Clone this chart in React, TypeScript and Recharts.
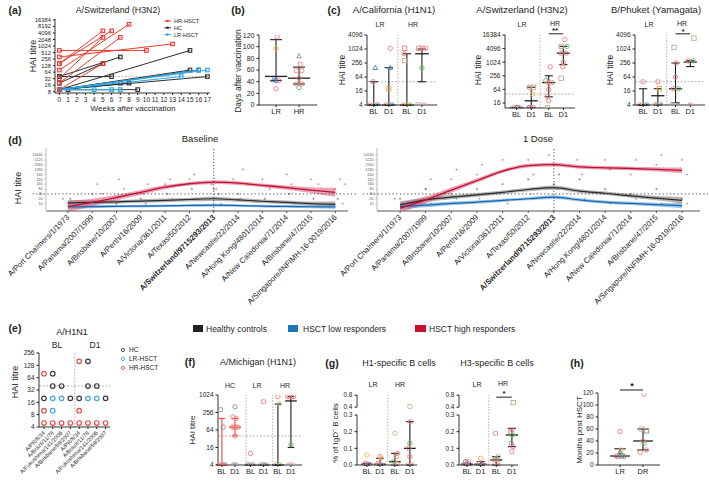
import React from "react";
import {
  Area,
  ComposedChart,
  Line,
  ReferenceLine,
  Scatter,
  ScatterChart,
  XAxis,
  YAxis,
} from "recharts";

const FONT = '"Liberation Sans", Arial, Helvetica, sans-serif';
const INK = "#1e1e1e";
const DASH = "#a0a0a0";
const COL: Record<string, string> = {
  R: "#f27c7c",
  O: "#efb247",
  B: "#3f7fc8",
  G: "#5fbd65",
  T: "#c8ab8e",
  K: "#8d8d8d",
  D: "#3a3a3a",
  L: "#46a6ec",
  H: "#ef4a41",
};

// (a) A/Switzerland kinetics, one subject per row: [week, titre, week, titre]
const aWeeks = [0, 1, 2, 3, 4, 5, 6, 7, 8, 9, 10, 11, 12, 13, 14, 15, 16, 17];
const aTicks = [8, 16, 32, 64, 128, 256, 512, 1024, 2048, 4096, 8192, 16384];
const aHR = [
  [0, 640, 10, 640],
  [0, 320, 13, 1280],
  [0, 160, 5, 5120],
  [0, 160, 6, 5120],
  [0, 80, 8, 10240],
  [0, 32, 5, 2560],
  [0, 20, 7, 2560],
  [0, 10, 5, 160],
];
const aHC = [
  [0, 40, 7, 320],
  [0, 20, 5, 160],
  [0, 10, 15, 640],
  [0, 40, 6, 40],
  [0, 10, 15, 80],
  [0, 10, 16, 80],
  [0, 10, 17, 40],
  [0, 10, 7, 20],
  [0, 10, 8, 20],
  [1, 10, 9, 10],
];
const aLR = [
  [0, 10, 4, 10],
  [0, 10, 6, 10],
  [0, 10, 7, 10],
  [0, 10, 14, 40],
  [0, 10, 16, 80],
  [0, 10, 17, 80],
];

// (b) days after vaccination: [x, value, colour, shape]
const bPts = [
  [1.05, 117, "R"], [1.0, 97, "O"], [0.88, 43, "B", "t"], [1.0, 42, "B"], [1.12, 42, "R"], [1.0, 28, "R"],
  [2.0, 84, "K", "t"], [2.05, 70, "R"], [1.88, 59, "R"], [2.12, 59, "R"], [2.0, 46, "R"],
  [1.88, 36, "R"], [2.12, 36, "R"], [2.0, 30, "G"],
];
const bSum = [[1, 49, 42, 112], [2, 46, 36, 65]];

// (c) HAI titres LR / HR
const cCols = [0, 1, 2.2, 3.2];
const cLabels = ["BL", "D1", "BL", "D1"];
const c1Pts = [
  [0.1, 160, "B", "t"], [-0.05, 40, "R"], [-0.25, 4, "R"], [0, 4, "O"], [0.25, 4, "B"],
  [1.1, 1100, "R"], [1.1, 160, "B", "t"], [1.0, 20, "O", "s"], [0.8, 4, "R"], [1.0, 4, "O"], [1.2, 4, "B"],
  [2.05, 1100, "R", "s"], [2.0, 640, "R"], [2.05, 320, "T", "s"], [2.0, 4, "R"], [2.4, 4, "G"], [2.2, 4, "O"],
  [3.0, 1100, "R", "s"], [3.25, 1100, "R"], [3.45, 1100, "R"], [3.2, 160, "G"], [2.95, 4, "T", "s"], [3.35, 4, "R"],
];
const c1Sum = [[0, 4, 4, 40], [1, 4, 4, 160], [2.2, 4, 4, 640], [3.2, 640, 40, 1024]];
const c2Pts = [
  [-0.2, 10, "R"], [-0.07, 10, "O"], [0.07, 10, "B"], [0.2, 10, "R"],
  [0.85, 80, "R"], [1.15, 80, "T", "s"], [1.1, 40, "O"], [0.85, 10, "B"], [1.0, 10, "R"], [1.15, 10, "R"],
  [2.3, 640, "R"], [2.0, 160, "G"], [2.35, 128, "T", "s"], [2.15, 128, "R"], [2.2, 64, "R"], [2.1, 32, "R"],
  [2.2, 20, "R"], [2.1, 10, "T", "s"],
  [3.3, 10240, "R"], [3.05, 5120, "T", "s"], [3.45, 5120, "G"], [3.05, 2560, "R"], [3.4, 2560, "R"],
  [3.2, 1000, "R"], [3.15, 640, "R"], [3.05, 200, "T", "s"],
];
const c2Sum = [[0, 10, 10, 10], [1, 20, 10, 80], [2.2, 128, 30, 256], [3.2, 2560, 800, 5120]];
const c3Pts = [
  [0, 40, "R"], [-0.25, 4, "R"], [0, 4, "O"], [0.25, 4, "B"],
  [1.0, 40, "R"], [1.1, 20, "O", "s"], [0.8, 4, "R"], [1.0, 4, "T", "s"], [1.25, 4, "B", "t"],
  [2.1, 1200, "T", "s"], [2.25, 256, "R"], [2.2, 64, "R"], [2.4, 20, "G"], [2.05, 20, "R"],
  [2.0, 4, "T", "s"], [2.4, 4, "K", "t"],
  [3.45, 3000, "T", "s"], [3.05, 320, "R"], [3.4, 320, "G"], [3.2, 4, "R"],
];
const c3Sum = [[0, 4, 4, 20], [1, 10, 4, 20], [2.2, 20, 5, 256], [3.2, 280, 180, 320]];

// (d) antibody landscapes
const dStrains = [
  "A/Port Chalmers/1/1973",
  "A/Panama/2007/1999",
  "A/Brisbane/10/2007",
  "A/Perth/16/2009",
  "A/Victoria/361/2011",
  "A/Texas/50/2012",
  "A/Switzerland/9715293/2013",
  "A/Newcastle/22/2014",
  "A/Hong Kong/4801/2014",
  "A/New Caledonia/71/2014",
  "A/Brisbane/47/2015",
  "A/Singapore/INFIMH-16-0019/2016",
];
const dIdx = [0, 1, 2, 3, 4, 5, 6, 7, 8, 9, 10, 11];
const dTicks = [10, 20, 40, 80, 160, 320, 640, 1280, 2560, 5120, 10240];
const blRed = [6.6, 12, 24, 50, 104, 170, 214, 187, 136, 99, 69, 50];
const blBlack = [11, 12, 13, 14.5, 16, 18, 20, 17, 14, 12, 10, 9];
const blBlue = [6.2, 6.5, 6.8, 7, 7.3, 7.7, 8, 7.6, 7, 6.7, 6.4, 6.2];
const blRedCi = [2.2, 1.7, 1.5, 1.4, 1.35, 1.3, 1.3, 1.3, 1.3, 1.35, 1.5, 1.9];
const blBlackCi = [1.5, 1.35, 1.3, 1.3, 1.3, 1.3, 1.35, 1.3, 1.3, 1.3, 1.35, 1.5];
const blBlueCi = [1.35, 1.25, 1.2, 1.2, 1.2, 1.2, 1.25, 1.2, 1.2, 1.2, 1.25, 1.35];
const d1Red = [5.2, 17, 69, 270, 1040, 2260, 2580, 1890, 1640, 1500, 1310, 1145];
const d1Black = [8.2, 17, 25, 35, 50, 75, 98, 60, 44, 30, 22, 16];
const d1Blue = [6.6, 8, 10.3, 12.3, 16, 20, 25, 17, 12.3, 10.3, 8.6, 7.5];
const d1RedCi = [2.0, 1.6, 1.45, 1.35, 1.3, 1.3, 1.3, 1.3, 1.3, 1.3, 1.35, 1.5];
const d1BlackCi = [1.7, 1.4, 1.35, 1.3, 1.3, 1.3, 1.35, 1.3, 1.3, 1.3, 1.35, 1.6];
const d1BlueCi = [1.5, 1.35, 1.3, 1.25, 1.25, 1.25, 1.3, 1.25, 1.25, 1.25, 1.3, 1.45];
const blRedDots = [
  [-0.2, 20], [0.3, 8], [1.2, 160], [1.4, 40], [2.1, 320], [2.3, 80], [3.1, 40], [3.3, 160],
  [4.0, 160], [4.2, 320], [5.0, 320], [5.2, 640], [5.9, 160], [6.1, 80], [6.8, 320], [7.2, 1280],
  [7.4, 160], [8.0, 320], [8.3, 80], [9.0, 640], [9.2, 160], [10.0, 320], [10.3, 160], [11.0, 80],
  [11.2, 320], [11.4, 160],
];
const blBlackDots = [
  [0.1, 20], [1.0, 40], [2.0, 10], [3.0, 20], [4.1, 40], [5.1, 80], [6.0, 80], [6.2, 40],
  [7.0, 40], [8.1, 20], [9.1, 40], [10.1, 20], [11.1, 20],
];
const blBlueDots = [
  [0.0, 10], [0.3, 10], [1.1, 10], [3.2, 10], [4.3, 20], [6.3, 10], [7.1, 20], [9.3, 10], [11.3, 10],
];
const d1RedDots = [
  [0.1, 10], [-0.2, 20], [1.0, 80], [1.2, 320], [2.0, 320], [2.2, 1280], [3.0, 640], [3.2, 2560],
  [4.0, 5120], [4.2, 1280], [5.0, 5120], [5.2, 640], [5.8, 10240], [6.1, 2560], [6.9, 5120],
  [7.1, 640], [8.0, 5120], [8.2, 1280], [9.0, 640], [9.2, 5120], [10.0, 2560], [10.2, 10240],
  [11.0, 5120], [11.2, 640],
];
const d1BlackDots = [
  [0.0, 20], [1.0, 80], [2.0, 40], [3.0, 80], [4.0, 160], [5.0, 320], [6.0, 160], [6.2, 640],
  [7.0, 320], [8.0, 80], [9.0, 40], [10.0, 80], [11.0, 20],
];
const d1BlueDots = [
  [0.2, 10], [1.2, 10], [2.2, 20], [3.1, 20], [4.2, 10], [5.1, 40], [6.1, 80], [7.2, 20],
  [8.2, 10], [9.2, 20], [10.2, 10], [11.2, 10],
];

// (e) A/H1N1 strains
const eCols = [0, 1, 2, 3, 4, 5, 6, 7];
const eStrains = [
  "A/PR/8/34", "A/Brazil/11/78", "A/Fukushima/141/2006", "A/Brisbane/59/2007",
  "A/PR/8/34", "A/Brazil/11/78", "A/Fukushima/141/2006", "A/Brisbane/59/2007",
];
const eTicks = [4, 8, 16, 32, 64, 128, 256];
const ePts = [
  [0, 80, "H"], [0, 20, "D"], [0, 10, "H"], [0, 5, "H"],
  [1, 80, "D"], [1, 40, "D"], [1, 20, "L"], [1, 10, "L"], [1, 5, "H"],
  [2, 40, "D"], [2, 20, "L"], [2, 5, "H"],
  [3, 20, "D"], [3, 5, "H"],
  [4, 160, "H"], [4, 20, "D"], [4, 10, "H"], [4, 5, "H"],
  [5, 160, "D"], [5, 40, "D"], [5, 20, "L"], [5, 5, "H"],
  [6, 40, "D"], [6, 20, "L"], [6, 5, "H"],
  [7, 20, "D"], [7, 5, "H"],
];

// (f) A/Michigan
const fCols = [0, 1, 2.2, 3.2, 4.3, 5.3];
const fLabels = ["BL", "D1", "BL", "D1", "BL", "D1"];
const fPts = [
  [-0.1, 320, "K"], [0.1, 80, "K"], [-0.15, 4, "R"], [0, 4, "R"], [0.15, 4, "R"], [0.25, 4, "K"],
  [1.0, 400, "K"], [0.85, 180, "R"], [1.1, 160, "R"], [0.8, 80, "R"], [0.95, 80, "R"], [1.1, 80, "R"],
  [1.25, 80, "R"], [1.0, 40, "R"], [0.9, 4, "K"], [1.1, 4, "K"],
  [2.2, 10, "R"], [2.0, 4, "B"], [2.2, 4, "R"], [2.4, 4, "K"],
  [3.2, 600, "R"], [3.0, 4, "R"], [3.2, 4, "B"], [3.4, 4, "K"],
  [4.3, 900, "R"], [4.4, 500, "T"], [4.15, 4, "R"], [4.45, 4, "G"],
  [5.05, 900, "R"], [5.2, 900, "R"], [5.35, 900, "R"], [5.5, 900, "R"], [5.3, 20, "G"],
  [5.15, 4, "R"], [5.45, 4, "T"],
];
const fSumHC = [[0, 4, 4, 160], [1, 80, 40, 160]];
const fSum = [[2.2, 4, 4, 4], [3.2, 4, 4, 4], [4.3, 4, 4, 500], [5.3, 640, 16, 900]];

// (g) antigen-specific B cells, % of IgD- B cells (broken axis 0.3 | 0.4)
const gCols = [0, 1, 2.15, 3.3];
const gLabels = ["0.0", "0.1", "0.2", "0.3", "0.4", "0.8"];
const gRaw = [0, 0.1, 0.2, 0.3, 0.4, 0.8];
const g1Pts = [
  [0, 0.06, "O"], [-0.15, 0.01, "R"], [0.05, 0.005, "R"], [0.2, 0.003, "R"], [0.1, 0, "B"],
  [1.0, 0.05, "R"], [1.1, 0.04, "O"], [0.85, 0.01, "R"], [1.1, 0, "B"], [0.9, 0, "R"],
  [2.15, 0.19, "T"], [2.35, 0.07, "R"], [2.25, 0.05, "R"], [2.05, 0.02, "G"], [2.3, 0.01, "R"], [2.1, 0, "T"],
  [3.3, 0.42, "T"], [3.35, 0.26, "R"], [3.3, 0.13, "G"], [3.2, 0.1, "R"], [3.3, 0.05, "R"],
  [3.45, 0, "R"], [3.15, 0, "T"],
];
const g1Sum = [[0, 0.005, 0, 0.01], [1, 0.005, 0, 0.04], [2.15, 0.02, 0, 0.07], [3.3, 0.1, 0, 0.26]];
const g2Pts = [
  [-0.1, 0.02, "B"], [0.1, 0.02, "R"], [0, 0.01, "R"], [0.05, 0, "B"], [-0.15, 0, "R"],
  [1.0, 0.04, "O"], [0.9, 0.01, "R"], [1.1, 0, "B"], [1.2, 0, "R"],
  [2.1, 0.19, "R"], [2.3, 0.05, "T"], [2.15, 0.04, "G"], [2.0, 0.03, "R"], [2.25, 0.01, "R"], [2.2, 0, "R"],
  [3.4, 0.55, "T", "s"], [3.3, 0.21, "R"], [3.2, 0.2, "R"], [3.35, 0.18, "G"], [3.25, 0.13, "K"],
  [3.4, 0.11, "R"], [3.3, 0.08, "R"],
];
const g2Sum = [[0, 0.005, 0, 0.01], [1, 0.005, 0, 0.02], [2.15, 0.03, 0, 0.05], [3.3, 0.18, 0.11, 0.22]];

// (h) months post HSCT
const hTicks = [0, 20, 40, 60, 80, 100, 120];
const hPts = [
  [1.0, 56, "R"], [1.0, 22, "B", "t"], [1.05, 25, "O"], [0.82, 15, "R"], [0.92, 14, "R"],
  [1.05, 15, "B"], [1.18, 14, "R"], [1.12, 16, "G"],
  [2.05, 118, "R"], [1.95, 60, "T", "s"], [2.15, 57, "K", "s"], [2.0, 40, "R"], [2.05, 36, "G"],
  [2.15, 25, "R"], [1.88, 21, "R"],
];
const hSum = [[1, 15, 14, 27], [2, 40, 25, 60]];

const brk = (v: number) =>
  v <= 0.3 ? v : v <= 0.4 ? 0.3 + (v - 0.3) * 0.47 : 0.347 + (v - 0.4) * 0.18;
const gTickPos = gRaw.map(brk);

const toPts = (arr: any[], f = (v: number) => v, r = 2.2, sw = 0.9) =>
  arr.map(([x, y, c, s]) => ({ x, y: f(y), col: COL[c], sh: s ?? "o", r, sw }));

function Mark(props: any) {
  const { cx, cy } = props;
  if (cx == null || cy == null) return null;
  const p = props.payload ?? props;
  const c = p.col;
  const r = p.r ?? 2.2;
  const sw = p.sw ?? 0.9;
  if (p.sh === "s")
    return <rect x={cx - r} y={cy - r} width={2 * r} height={2 * r} fill="none" stroke={c} strokeWidth={sw} />;
  if (p.sh === "t")
    return (
      <polygon
        points={`${cx},${cy - r * 1.15} ${cx - r},${cy + r * 0.8} ${cx + r},${cy + r * 0.8}`}
        fill="none"
        stroke={c}
        strokeWidth={sw}
      />
    );
  return <circle cx={cx} cy={cy} r={r} fill="none" stroke={c} strokeWidth={sw} />;
}

function sumEls(sums: number[][], key: string, half: number, cap: number, color = INK) {
  const out: any[] = [];
  sums.forEach(([x, m, lo, hi], i) => {
    if (hi > lo) {
      out.push(
        <ReferenceLine key={`${key}v${i}`} segment={[{ x, y: lo }, { x, y: hi }]} stroke={color} strokeWidth={1.1} ifOverflow="visible" />,
        <ReferenceLine key={`${key}l${i}`} segment={[{ x: x - cap, y: lo }, { x: x + cap, y: lo }]} stroke={color} strokeWidth={1.1} ifOverflow="visible" />,
        <ReferenceLine key={`${key}h${i}`} segment={[{ x: x - cap, y: hi }, { x: x + cap, y: hi }]} stroke={color} strokeWidth={1.1} ifOverflow="visible" />,
      );
    }
    out.push(
      <ReferenceLine key={`${key}m${i}`} segment={[{ x: x - half, y: m }, { x: x + half, y: m }]} stroke={color} strokeWidth={1.3} ifOverflow="visible" />,
    );
  });
  return out;
}

function sigBar(x1: number, x2: number, y: number, key: string) {
  return (
    <ReferenceLine key={key} segment={[{ x: x1, y }, { x: x2, y }]} stroke={INK} strokeWidth={1} ifOverflow="visible" />
  );
}

function RotTick(props: any) {
  const { x, y, payload, labels, size, boldIdx } = props;
  const i = Math.round(payload.value);
  return (
    <g transform={`translate(${x},${y + 1}) rotate(-45)`}>
      <text x={0} y={0} dy="0.35em" textAnchor="end" fontSize={size} fill={INK} fontWeight={i === boldIdx ? 700 : 400}>
        {labels[i]}
      </text>
    </g>
  );
}

function DotPanel(p: any) {
  const yw = p.yw ?? 24;
  const xh = p.xh ?? 16;
  const pt = 3;
  const pr = 3;
  const labelOf = (v: number) => {
    const k = p.cols.findIndex((c: number) => Math.abs(c - v) < 1e-6);
    return k >= 0 ? p.colLabels[k] : "";
  };
  const yFmt = p.yFmt ?? ((v: number) => String(v));
  return (
    <div style={{ position: "absolute", left: p.x - yw, top: p.y - pt }}>
      <ScatterChart width={yw + p.w + pr} height={pt + p.h + xh} margin={{ top: pt, right: pr, left: 0, bottom: 0 }}>
        <XAxis
          type="number"
          dataKey="x"
          domain={p.xDomain}
          allowDataOverflow
          ticks={p.cols}
          interval={0}
          height={xh}
          tickFormatter={labelOf}
          tick={p.xTick ?? { fontSize: p.xFont ?? 7.5, fill: INK }}
          tickSize={2}
          axisLine={{ stroke: INK, strokeWidth: 0.9 }}
          tickLine={{ stroke: INK }}
        />
        <YAxis
          type="number"
          dataKey="y"
          scale={p.log ? "log" : "linear"}
          domain={p.yDomain}
          allowDataOverflow
          ticks={p.yTicks}
          interval={0}
          width={yw}
          tickFormatter={yFmt}
          tick={{ fontSize: p.yFont ?? 6.5, fill: INK }}
          tickSize={2.5}
          axisLine={p.noYLine ? false : { stroke: INK, strokeWidth: 0.9 }}
          tickLine={{ stroke: INK }}
        />
        {p.refY != null && (
          <ReferenceLine y={p.refY} stroke={DASH} strokeDasharray="2 1.5" strokeWidth={0.8} />
        )}
        {(p.seps ?? []).map((s: number, i: number) => (
          <ReferenceLine key={"sep" + i} x={s} stroke={DASH} strokeDasharray="1.5 1.5" strokeWidth={0.8} />
        ))}
        {p.extra}
        <Scatter data={p.pts} dataKey="y" shape={Mark} isAnimationActive={false} />
        {p.sums}
      </ScatterChart>
    </div>
  );
}

function PanelA() {
  const yw = 22;
  const xh = 12;
  const pt = 2;
  const pr = 2;
  const x = 55;
  const y = 19;
  const w = 155;
  const h = 74;
  const groups: [number[][], string][] = [
    [aHC, "#2c2c2c"],
    [aLR, "#2ea6e6"],
    [aHR, "#ec3b2f"],
  ];
  return (
    <div style={{ position: "absolute", left: x - yw, top: y - pt }}>
      <ScatterChart width={yw + w + pr} height={pt + h + xh} margin={{ top: pt, right: pr, left: 0, bottom: 0 }}>
        <XAxis
          type="number"
          dataKey="x"
          domain={[-0.5, 17.3]}
          allowDataOverflow
          ticks={aWeeks}
          interval={0}
          height={xh}
          tick={{ fontSize: 6.5, fill: INK }}
          tickSize={2}
          axisLine={{ stroke: INK, strokeWidth: 0.9 }}
          tickLine={{ stroke: INK }}
        />
        <YAxis
          type="number"
          dataKey="y"
          scale="log"
          domain={[7, 18000]}
          allowDataOverflow
          ticks={aTicks}
          interval={0}
          width={yw}
          tick={{ fontSize: 5.8, fill: INK }}
          tickSize={2}
          axisLine={{ stroke: INK, strokeWidth: 0.9 }}
          tickLine={{ stroke: INK }}
        />
        <ReferenceLine y={40} stroke={DASH} strokeDasharray="2 1.5" strokeWidth={0.7} />
        {groups.flatMap(([rows, c], g) =>
          rows.map((l, i) => (
            <Scatter
              key={`a${g}-${i}`}
              data={[
                { x: l[0], y: l[1] },
                { x: l[2], y: l[3] },
              ]}
              dataKey="y"
              line={{ stroke: c, strokeWidth: 1 }}
              shape={(pp: any) =>
                pp.cx == null ? null : (
                  <rect x={pp.cx - 1.8} y={pp.cy - 1.8} width={3.6} height={3.6} fill="none" stroke={c} strokeWidth={1.1} />
                )
              }
              isAnimationActive={false}
            />
          )),
        )}
      </ScatterChart>
    </div>
  );
}

function PlusDot(props: any) {
  const { cx, cy, fill } = props;
  if (cx == null || cy == null) return null;
  return (
    <path d={`M${cx - 1.1},${cy}H${cx + 1.1}M${cx},${cy - 1.1}V${cy + 1.1}`} stroke={fill} strokeWidth={0.6} opacity={0.75} />
  );
}

function TrendPanel(p: any) {
  const yw = 20;
  const xh = 120;
  const pt = 2;
  const pr = 2;
  const rows = dStrains.map((_, i) => ({
    x: i,
    rm: p.red[i],
    rb: [p.red[i] / p.rCi[i], p.red[i] * p.rCi[i]],
    km: p.black[i],
    kb: [p.black[i] / p.kCi[i], p.black[i] * p.kCi[i]],
    bm: p.blue[i],
    bb: [p.blue[i] / p.bCi[i], p.blue[i] * p.bCi[i]],
  }));
  const dots = (arr: number[][]) => arr.map(([x, y]) => ({ x, y }));
  return (
    <div style={{ position: "absolute", left: p.x - yw, top: p.y - pt }}>
      <ComposedChart width={yw + p.w + pr} height={pt + p.h + xh} data={rows} margin={{ top: pt, right: pr, left: 0, bottom: 0 }}>
        <XAxis
          type="number"
          dataKey="x"
          domain={p.xDomain}
          allowDataOverflow
          ticks={dIdx}
          interval={0}
          height={xh}
          tick={(tp: any) => <RotTick {...tp} labels={dStrains} size={7.8} boldIdx={6} />}
          tickSize={2}
          axisLine={{ stroke: "#555", strokeWidth: 1 }}
          tickLine={{ stroke: "#555" }}
        />
        <YAxis
          type="number"
          scale="log"
          domain={[3.5, 27800]}
          allowDataOverflow
          ticks={dTicks}
          interval={0}
          width={yw}
          tick={{ fontSize: 3.6, fill: "#555" }}
          tickSize={1.5}
          axisLine={{ stroke: "#bbb" }}
          tickLine={{ stroke: "#bbb" }}
        />
        <Area dataKey="kb" type="monotone" stroke="none" fill="#777" fillOpacity={0.55} isAnimationActive={false} />
        <Area dataKey="bb" type="monotone" stroke="none" fill="#3d8fd1" fillOpacity={0.5} isAnimationActive={false} />
        <Area dataKey="rb" type="monotone" stroke="none" fill="#d8456a" fillOpacity={0.5} isAnimationActive={false} />
        <Scatter data={dots(p.kDots)} dataKey="y" fill="#333" shape={PlusDot} isAnimationActive={false} />
        <Scatter data={dots(p.bDots)} dataKey="y" fill="#2a7fc8" shape={PlusDot} isAnimationActive={false} />
        <Scatter data={dots(p.rDots)} dataKey="y" fill="#d03050" shape={PlusDot} isAnimationActive={false} />
        <Line dataKey="km" type="monotone" stroke="#2a2a2a" strokeWidth={1.2} dot={false} isAnimationActive={false} />
        <Line dataKey="bm" type="monotone" stroke="#1466b0" strokeWidth={1.2} dot={false} isAnimationActive={false} />
        <Line dataKey="rm" type="monotone" stroke="#c0102f" strokeWidth={1.3} dot={false} isAnimationActive={false} />
        <ReferenceLine x={6} stroke="#333" strokeDasharray="1.2 2" strokeWidth={0.9} />
        <ReferenceLine
          segment={[
            { x: p.xDomain[0] - 0.55, y: 40 },
            { x: p.xDomain[1] + 0.4, y: 40 },
          ]}
          stroke="#333"
          strokeDasharray="1.2 2.5"
          strokeWidth={0.9}
          ifOverflow="visible"
        />
      </ComposedChart>
    </div>
  );
}

function T({ x, y, s = 8, b = false, rot = 0, left = false, children }: any) {
  return (
    <div
      style={{
        position: "absolute",
        left: x,
        top: y,
        transform: `translate(${left ? 0 : -50}%, -50%) rotate(${rot}deg)`,
        fontSize: s,
        fontWeight: b ? 700 : 400,
        lineHeight: 1,
        whiteSpace: "nowrap",
        color: INK,
      }}
    >
      {children}
    </div>
  );
}

export default function App() {
  const logCFirst = [4, 16, 64, 256, 1024, 4096];
  const logCMid = [16, 64, 256, 1024, 4096, 16384];
  const fTicks = [4, 16, 64, 256, 1024];
  return (
    <div
      style={{
        position: "relative",
        width: 709,
        height: 490,
        background: "#fff",
        fontFamily: FONT,
        color: INK,
        overflow: "hidden",
      }}
    >
      <style>{`body{margin:0} .recharts-surface{overflow:visible}`}</style>

      {/* (a) */}
      <PanelA />
      <svg style={{ position: "absolute", left: 164, top: 17 }} width={50} height={24}>
        {[
          ["HR-HSCT", "#ec3b2f"],
          ["HC", "#2c2c2c"],
          ["LR-HSCT", "#2ea6e6"],
        ].map(([label, c], i) => (
          <g key={label} transform={`translate(0, ${4 + i * 6.8})`}>
            <line x1={0} x2={7} y1={0} y2={0} stroke={c} strokeWidth={0.9} />
            <circle cx={3.5} cy={0} r={1.3} fill={c} />
            <text x={10} y={0} dy="0.35em" fontSize={5.6} fill={INK}>
              {label}
            </text>
          </g>
        ))}
      </svg>

      {/* (b) */}
      <DotPanel
        x={259} y={35} w={58} h={70}
        xDomain={[0.26, 2.78]} cols={[1, 2]} colLabels={["LR", "HR"]}
        yDomain={[0, 120]} yTicks={[0, 20, 40, 60, 80, 100, 120]} yFont={7}
        pts={toPts(bPts)}
        sums={sumEls(bSum, "b", 0.48, 0.26)}
      />

      {/* (c) */}
      <DotPanel
        x={367} y={35} w={70} h={70} log
        xDomain={[-0.45, 4.2]} cols={cCols} colLabels={cLabels}
        yDomain={[4, 4096]} yTicks={logCFirst} refY={40} seps={[1.6]}
        pts={toPts(c1Pts)}
        sums={sumEls(c1Sum, "c1", 0.45, 0.28)}
      />
      <DotPanel
        x={505} y={35} w={70} h={73} log
        xDomain={[-0.8, 4.0]} cols={cCols} colLabels={cLabels}
        yDomain={[9.6, 16384]} yTicks={logCMid} refY={40} seps={[1.6]}
        pts={toPts(c2Pts)}
        sums={sumEls(c2Sum, "c2", 0.45, 0.28)}
        extra={sigBar(2.2, 3.2, 18500, "c2s")}
        xh={13}
      />
      <DotPanel
        x={635} y={35} w={70} h={70} log
        xDomain={[-0.55, 4.2]} cols={cCols} colLabels={cLabels}
        yDomain={[4, 4096]} yTicks={logCFirst} refY={40} seps={[1.6]}
        pts={toPts(c3Pts)}
        sums={sumEls(c3Sum, "c3", 0.45, 0.28)}
        extra={sigBar(2.2, 3.2, 4600, "c3s")}
      />

      {/* (d) */}
      <TrendPanel
        x={46} y={148} w={302} h={63} xDomain={[-0.9, 11.52]}
        red={blRed} black={blBlack} blue={blBlue}
        rCi={blRedCi} kCi={blBlackCi} bCi={blBlueCi}
        rDots={blRedDots} kDots={blBlackDots} bDots={blBlueDots}
      />
      <TrendPanel
        x={377} y={148} w={323} h={63} xDomain={[-0.9, 11.7]}
        red={d1Red} black={d1Black} blue={d1Blue}
        rCi={d1RedCi} kCi={d1BlackCi} bCi={d1BlueCi}
        rDots={d1RedDots} kDots={d1BlackDots} bDots={d1BlueDots}
      />

      {/* (e) */}
      <DotPanel
        x={39} y={353} w={71} h={74} log yw={20}
        xDomain={[-0.56, 7.5]} cols={eCols} colLabels={eStrains}
        xTick={(tp: any) => <RotTick {...tp} labels={eStrains} size={5.6} boldIdx={-1} />}
        xh={60}
        yDomain={[4, 256]} yTicks={eTicks} refY={40} seps={[3.5]}
        pts={toPts(ePts, (v) => v, 2.3, 1.2)}
        sums={[]}
      />
      <svg style={{ position: "absolute", left: 118, top: 344 }} width={50} height={30}>
        {[
          ["HC", COL.D],
          ["LR-HSCT", COL.L],
          ["HR-HSCT", COL.H],
        ].map(([label, c], i) => (
          <g key={label} transform={`translate(0, ${6 + i * 9})`}>
            <circle cx={5} cy={0} r={1.6} fill="none" stroke={c} strokeWidth={0.9} />
            <text x={11} y={0} dy="0.35em" fontSize={6.5} fill={INK}>
              {label}
            </text>
          </g>
        ))}
      </svg>

      {/* (f) */}
      <DotPanel
        x={218} y={395} w={84} h={70} log
        xDomain={[-0.3, 6.15]} cols={fCols} colLabels={fLabels}
        yDomain={[4, 1024]} yTicks={fTicks} refY={40} seps={[1.85, 3.9]}
        pts={toPts(fPts)}
        sums={[...sumEls(fSumHC, "fh", 0.45, 0.25, "#e8453c"), ...sumEls(fSum, "f", 0.45, 0.25)]}
      />

      {/* (g) */}
      {[
        { x: 357, w: 60, dom: [-0.77, 3.85], pts: g1Pts, sum: g1Sum, k: "g1", extra: [] as any[] },
        { x: 459, w: 59, dom: [-0.59, 3.75], pts: g2Pts, sum: g2Sum, k: "g2", extra: [sigBar(2.15, 3.3, 0.407, "g2s")] },
      ].map((g) => (
        <DotPanel
          key={g.k}
          x={g.x} y={395} w={g.w} h={70}
          xDomain={g.dom} cols={gCols} colLabels={cLabels}
          yDomain={[0, 0.42]} yTicks={gTickPos}
          yFmt={(v: number) => {
            const k = gTickPos.findIndex((t) => Math.abs(t - v) < 1e-6);
            return k >= 0 ? gLabels[k] : "";
          }}
          noYLine seps={[1.6]}
          pts={toPts(g.pts, brk)}
          sums={sumEls(g.sum.map(([x, m, lo, hi]) => [x, brk(m), brk(lo), brk(hi)]), g.k, 0.45, 0.3)}
          extra={[
            <ReferenceLine key={g.k + "a1"} segment={[{ x: g.dom[0], y: 0 }, { x: g.dom[0], y: 0.3 }]} stroke={INK} strokeWidth={0.9} ifOverflow="visible" />,
            <ReferenceLine key={g.k + "a2"} segment={[{ x: g.dom[0], y: brk(0.4) }, { x: g.dom[0], y: 0.42 }]} stroke={INK} strokeWidth={0.9} ifOverflow="visible" />,
            ...g.extra,
          ]}
        />
      ))}

      {/* (h) */}
      <DotPanel
        x={598} y={393} w={62} h={72}
        xDomain={[0.04, 2.74]} cols={[1, 2]} colLabels={["LR", "DR"]}
        yDomain={[0, 120]} yTicks={hTicks}
        pts={toPts(hPts)}
        sums={sumEls(hSum, "h", 0.43, 0.25)}
        extra={sigBar(1, 2, 125, "hs")}
      />

      {/* text */}
      <T x={15} y={10} s={10.5} b>(a)</T>
      <T x={118} y={10} s={8.8}>A/Switzerland (H3N2)</T>
      <T x={33} y={56} s={9} rot={-90}>HAI titre</T>
      <T x={133} y={109} s={8}>Weeks after vaccination</T>

      <T x={238} y={10} s={10.5} b>(b)</T>
      <T x={238} y={71} s={8.5} rot={-90}>Days after vaccination</T>

      <T x={334} y={10} s={10.5} b>(c)</T>
      <T x={394} y={10} s={9.5}>A/California (H1N1)</T>
      <T x={522} y={10} s={9.5}>A/Switzerland (H3N2)</T>
      <T x={656} y={10} s={9.5}>B/Phuket (Yamagata)</T>
      <T x={380} y={24} s={7}>LR</T>
      <T x={413} y={24} s={7}>HR</T>
      <T x={522} y={24} s={7}>LR</T>
      <T x={555} y={23} s={7}>HR</T>
      <T x={649} y={24} s={7}>LR</T>
      <T x={682} y={23} s={7}>HR</T>
      <T x={342} y={70} s={8.5} rot={-90}>HAI titre</T>
      <T x={478} y={70} s={8.5} rot={-90}>HAI titre</T>
      <T x={610} y={70} s={8.5} rot={-90}>HAI titre</T>
      <T x={555} y={31} s={8} b>**</T>
      <T x={683} y={32} s={8} b>*</T>

      <T x={15} y={140} s={10.5} b>(d)</T>
      <T x={200} y={139} s={9.5}>Baseline</T>
      <T x={538} y={139} s={9.5}>1 Dose</T>
      <T x={18} y={188} s={9} rot={-90}>HAI titre</T>

      <div style={{ position: "absolute", left: 193, top: 325, width: 10, height: 7, background: "#222" }} />
      <T x={206} y={328.5} s={8.5} left>Healthy controls</T>
      <div style={{ position: "absolute", left: 288, top: 325, width: 10, height: 7, background: "#1a75bb" }} />
      <T x={303} y={328.5} s={8.5} left>HSCT low responders</T>
      <div style={{ position: "absolute", left: 415, top: 325, width: 11, height: 7, background: "#c8102e" }} />
      <T x={429} y={328.5} s={8.5} left>HSCT high responders</T>

      <T x={15} y={328} s={10.5} b>(e)</T>
      <T x={72} y={332} s={9}>A/H1N1</T>
      <T x={57} y={345} s={8.5}>BL</T>
      <T x={95} y={345} s={8.5}>D1</T>
      <T x={15} y={382} s={9} rot={-90}>HAI titre</T>

      <T x={190} y={362} s={10.5} b>(f)</T>
      <T x={258} y={362} s={9}>A/Michigan (H1N1)</T>
      <T x={230} y={385} s={7}>HC</T>
      <T x={257} y={385} s={7}>LR</T>
      <T x={285} y={385} s={7}>HR</T>
      <T x={193} y={430} s={8} rot={-90}>HAI titre</T>

      <T x={332} y={363} s={10.5} b>(g)</T>
      <T x={399} y={363} s={9}>H1-specific B cells</T>
      <T x={497} y={363} s={9}>H3-specific B cells</T>
      <T x={373} y={384} s={7}>LR</T>
      <T x={400} y={384} s={7}>HR</T>
      <T x={477} y={384} s={7}>LR</T>
      <T x={503} y={382.5} s={7}>HR</T>
      <T x={336} y={433} s={8} rot={-90}>% of IgD⁻ B cells</T>
      <T x={504} y={393.5} s={8} b>*</T>

      <T x={577} y={363} s={10.5} b>(h)</T>
      <T x={580} y={430} s={8} rot={-90}>Months post HSCT</T>
      <T x={632} y={386} s={9} b>*</T>
    </div>
  );
}
